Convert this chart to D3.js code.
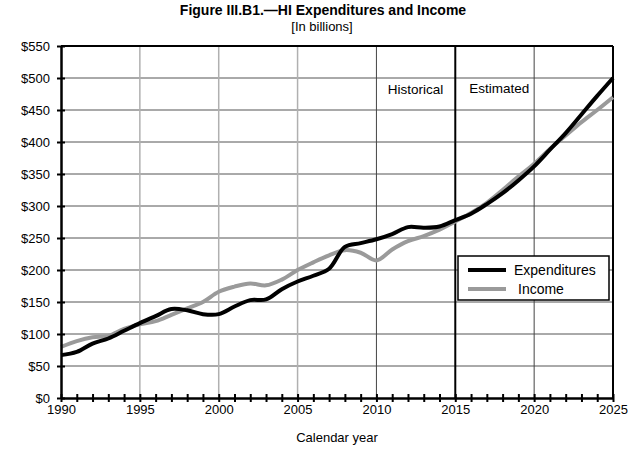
<!DOCTYPE html>
<html>
<head>
<meta charset="utf-8">
<script src="https://cdn.jsdelivr.net/npm/d3@7"></script>
<style>
  body { margin: 0; background: #fff; }
  svg { display: block; font-family: "Liberation Sans", Arial, sans-serif; }
</style>
</head>
<body>
<svg id="chart" width="640" height="449"></svg>
<script>
// Data (billions of dollars)
const years = d3.range(1990, 2026);
const expenditures = [67, 72, 85, 93, 105, 117, 128, 139, 137, 131,
  131, 143, 153, 154, 170, 182, 191, 202, 236, 242,
  248, 256, 267, 266, 268, 278, 288, 303, 320, 340,
  362, 388, 414, 443, 472, 500];
const income = [80, 89, 95, 97, 108, 115, 120, 130, 140, 150,
  166, 174, 179, 176, 185, 200, 212, 223, 231, 227,
  215, 232, 245, 253, 263, 276, 289, 305, 325, 346,
  366, 389, 410, 431, 450, 470];
const yTicks = [0, 50, 100, 150, 200, 250, 300, 350, 400, 450, 500, 550];
const xTicks = [1990, 1995, 2000, 2005, 2010, 2015, 2020, 2025];
const splitYear = 2015;

const svg = d3.select("#chart");
const margin = { top: 46, right: 27, bottom: 51, left: 61 };
const w = 640 - margin.left - margin.right;
const h = 449 - margin.top - margin.bottom;

const g = svg.append("g").attr("transform", `translate(${margin.left},${margin.top})`);

const x = d3.scaleLinear().domain([1990, 2025]).range([0, w]);
const y = d3.scaleLinear().domain([0, 550]).range([h, 0]);

// Title
svg.append("text").attr("x", 323).attr("y", 15)
  .attr("text-anchor", "middle").attr("font-size", 14).attr("font-weight", 700)
  .text("Figure III.B1.\u2014HI Expenditures and Income");
svg.append("text").attr("x", 322).attr("y", 31)
  .attr("text-anchor", "middle").attr("font-size", 13)
  .text("[In billions]");

// Horizontal grid
g.append("g").selectAll("line")
  .data(yTicks.filter(d => d > 0 && d < 550))
  .enter().append("line")
  .attr("x1", 0).attr("x2", w)
  .attr("y1", d => y(d)).attr("y2", d => y(d))
  .attr("stroke", "#555").attr("stroke-width", 1);

// Vertical grid (historical light, estimated dark)
g.append("g").selectAll("line")
  .data(xTicks.filter(d => d > 1990 && d < 2025 && d !== splitYear))
  .enter().append("line")
  .attr("x1", d => x(d)).attr("x2", d => x(d))
  .attr("y1", 0).attr("y2", h)
  .attr("stroke", d => d < 2010 ? "#b0b0b0" : "#444")
  .attr("stroke-width", d => d < 2010 ? 1.5 : 1);

// Frame
g.append("line").attr("x1", 0).attr("x2", w).attr("y1", 0).attr("y2", 0)
  .attr("stroke", "#000").attr("stroke-width", 2);
g.append("line").attr("x1", w).attr("x2", w).attr("y1", 0).attr("y2", h)
  .attr("stroke", "#000").attr("stroke-width", 2);
g.append("line").attr("x1", x(splitYear)).attr("x2", x(splitYear)).attr("y1", 0).attr("y2", h)
  .attr("stroke", "#000").attr("stroke-width", 2);

// Lines
const line = d3.line()
  .x((d, i) => x(years[i]))
  .y(d => y(d))
  .curve(d3.curveCatmullRom.alpha(0.5));

g.append("path").datum(income)
  .attr("fill", "none").attr("stroke", "#9a9a9a").attr("stroke-width", 4)
  .attr("d", line);
g.append("path").datum(expenditures)
  .attr("fill", "none").attr("stroke", "#000").attr("stroke-width", 4)
  .attr("d", line);

// Y axis
const yAxis = g.append("g")
  .call(d3.axisLeft(y).tickValues(yTicks).tickFormat(d => "$" + d).tickSize(4).tickSizeOuter(0));
yAxis.selectAll(".tick line").attr("x2", 4).attr("x1", -4).attr("stroke", "#000").attr("stroke-width", 2);
yAxis.selectAll("text").attr("font-size", 13).attr("x", -11).attr("fill", "#000")
  .attr("font-family", "Liberation Sans, Arial, sans-serif");
yAxis.select(".domain").attr("stroke", "#000").attr("stroke-width", 2.5);

// X axis
const xAxis = g.append("g").attr("transform", `translate(0,${h})`)
  .call(d3.axisBottom(x).tickValues(years).tickFormat(d => xTicks.includes(d) ? d : "").tickSize(4).tickSizeOuter(0));
xAxis.selectAll(".tick line").attr("y1", -4).attr("y2", 4).attr("stroke", "#000").attr("stroke-width", 2);
xAxis.selectAll("text").attr("font-size", 13).attr("y", 7).attr("fill", "#000")
  .attr("font-family", "Liberation Sans, Arial, sans-serif");
xAxis.select(".domain").attr("stroke", "#000").attr("stroke-width", 2.5);

svg.append("text").attr("x", margin.left + w / 2).attr("y", 442)
  .attr("text-anchor", "middle").attr("font-size", 13)
  .text("Calendar year");

// Period labels
g.append("text").attr("x", x(splitYear) - 12).attr("y", y(475))
  .attr("text-anchor", "end").attr("font-size", 13.5).text("Historical");
g.append("text").attr("x", x(splitYear) + 14).attr("y", y(477))
  .attr("font-size", 13.5).text("Estimated");

// Legend
const lg = svg.append("g").attr("transform", "translate(458,256)");
lg.append("rect").attr("width", 151).attr("height", 44)
  .attr("fill", "#fff").attr("stroke", "#000").attr("stroke-width", 1.5);
const legendItems = [
  { label: "Expenditures", color: "#000", dx: 0 },
  { label: "Income", color: "#9a9a9a", dx: 4 }
];
legendItems.forEach((d, i) => {
  lg.append("line").attr("x1", 10).attr("x2", 48).attr("y1", 14 + i * 19).attr("y2", 14 + i * 19)
    .attr("stroke", d.color).attr("stroke-width", 4);
  lg.append("text").attr("x", 56 + d.dx).attr("y", 19 + i * 19)
    .attr("font-size", 14).text(d.label);
});
</script>
</body>
</html>
